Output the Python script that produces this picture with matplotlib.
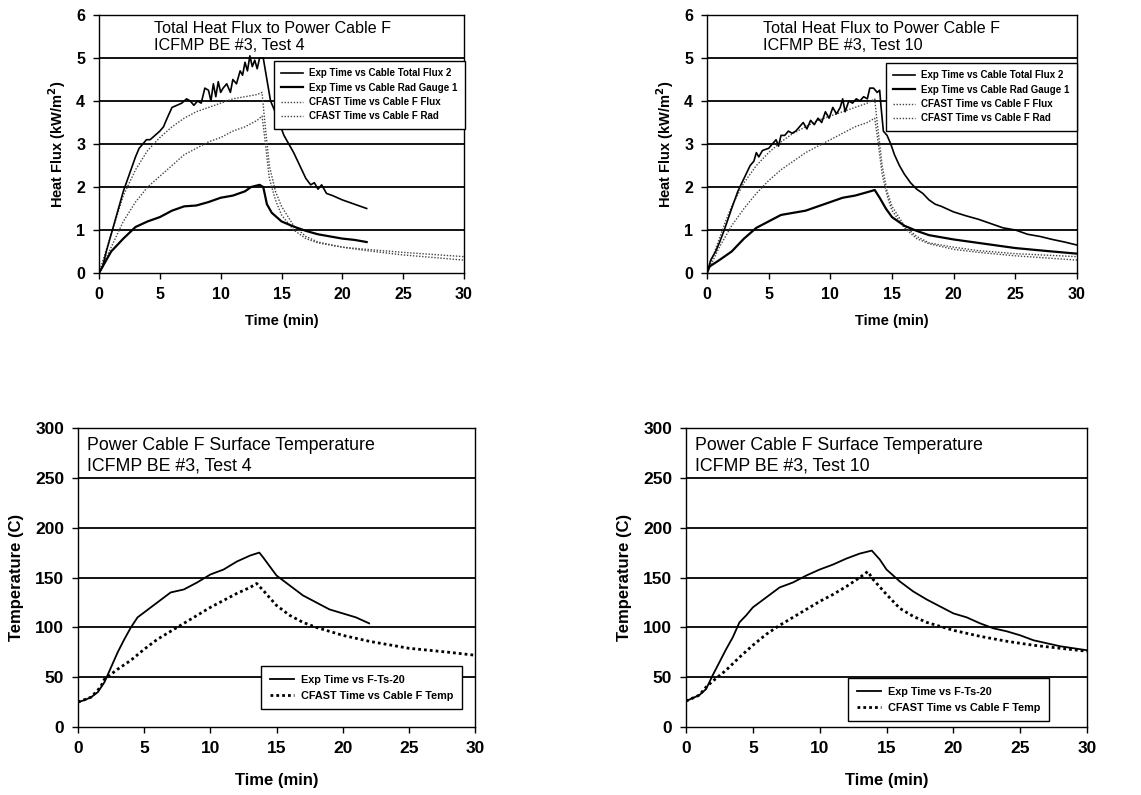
import matplotlib
matplotlib.use("Agg")
import matplotlib.pyplot as plt

plt.rcParams['font.family'] = ['Liberation Sans', 'DejaVu Sans']

W, H = 1141, 795

# ---------------- Data: Test 4 heat flux ----------------
t4_total = [0, 0.3, 0.6, 1.0, 1.5, 2.0, 2.5, 3.0, 3.3, 3.6, 3.9, 4.2, 4.6, 5.0, 5.3, 5.6, 6.0, 6.4, 6.8,
            7.2, 7.5, 7.8, 8.1, 8.4, 8.7, 9.0, 9.2, 9.4, 9.6, 9.8, 10.0, 10.2, 10.5, 10.8, 11.0, 11.3,
            11.6, 11.8, 12.0, 12.2, 12.4, 12.6, 12.8, 13.0, 13.2, 13.5, 13.8, 14.1, 14.4, 14.8, 15.2,
            15.6, 16.0, 16.5, 17.0, 17.4, 17.7, 18.0, 18.3, 18.7, 19.2, 20, 21, 22]
f4_total = [0, 0.15, 0.5, 0.9, 1.4, 1.9, 2.3, 2.7, 2.9, 3.0, 3.1, 3.1, 3.2, 3.3, 3.4, 3.6, 3.85, 3.9, 3.95,
            4.05, 4.0, 3.9, 4.0, 3.95, 4.3, 4.25, 4.0, 4.4, 4.1, 4.45, 4.2, 4.3, 4.4, 4.2, 4.5, 4.4,
            4.7, 4.6, 4.9, 4.7, 5.05, 4.8, 4.95, 4.75, 5.0, 5.0, 4.5, 4.0, 3.8, 3.5, 3.2,
            3.0, 2.8, 2.5, 2.2, 2.05, 2.1, 1.95, 2.05, 1.85, 1.8, 1.7, 1.6, 1.5]
t4_rad = [0, 0.5, 1, 2, 3, 4, 5, 6, 7, 8, 9, 10, 11, 12, 12.5, 13.2, 13.5, 13.8, 14.2, 15, 16, 17, 18, 19,
          20, 21, 22]
f4_rad = [0, 0.25, 0.5, 0.8, 1.07, 1.2, 1.3, 1.45, 1.55, 1.57, 1.65, 1.75, 1.8, 1.9, 2.0, 2.05, 2.0, 1.6,
          1.4, 1.2, 1.08, 0.98, 0.9, 0.85, 0.8, 0.77, 0.72]
t4_cf = [0, 1, 2, 3, 4, 5, 6, 7, 8, 9, 10, 11, 12, 13, 13.4, 13.6, 14, 14.5, 15, 16, 17, 18, 20, 22, 25, 30]
f4_cf_flux = [0, 0.9, 1.8, 2.4, 2.85, 3.15, 3.4, 3.6, 3.75, 3.85, 3.95, 4.05, 4.1, 4.15, 4.2, 3.6, 2.5,
              1.9, 1.55, 1.1, 0.85, 0.72, 0.6, 0.55, 0.48, 0.38]
f4_cf_rad = [0, 0.6, 1.2, 1.65, 2.0, 2.25, 2.5, 2.75, 2.9, 3.05, 3.15, 3.3, 3.4, 3.55, 3.65, 3.2, 2.2,
             1.7, 1.35, 1.0, 0.8, 0.7, 0.6, 0.52, 0.42, 0.3]

# ---------------- Data: Test 10 heat flux ----------------
t10_total = [0, 0.3, 0.7, 1.0, 1.4, 2.0, 2.5, 3.0, 3.5, 3.8, 4.0, 4.2, 4.5, 5.0, 5.3, 5.6, 5.8, 6.0, 6.3,
             6.6, 6.9, 7.2, 7.5, 7.8, 8.1, 8.4, 8.7, 9.0, 9.3, 9.6, 9.9, 10.2, 10.5, 10.8, 11.0, 11.2,
             11.5, 11.8, 12.1, 12.4, 12.7, 13.0, 13.2, 13.5, 13.8, 14.0, 14.1, 14.3, 14.6, 14.9, 15.2,
             15.6, 16.0, 16.5, 17.0, 17.5, 18.0, 18.5, 19.0, 20, 21, 22, 23, 24, 25, 26, 27, 28, 29, 30]
f10_total = [0, 0.3, 0.5, 0.7, 1.0, 1.5, 1.9, 2.2, 2.5, 2.6, 2.8, 2.7, 2.85, 2.9, 3.0, 3.1, 2.95, 3.2, 3.2,
             3.3, 3.25, 3.3, 3.4, 3.5, 3.35, 3.55, 3.45, 3.6, 3.5, 3.75, 3.6, 3.85, 3.7, 3.85, 4.05, 3.75,
             4.0, 3.95, 4.05, 4.0, 4.1, 4.05, 4.3, 4.3, 4.2, 4.25, 3.9, 3.3, 3.2, 3.0, 2.75,
             2.5, 2.3, 2.1, 1.95, 1.85, 1.7, 1.6, 1.55, 1.42, 1.33, 1.25, 1.15, 1.05, 1.0, 0.9, 0.85, 0.78,
             0.72, 0.65]
t10_rad = [0, 0.2, 1, 2, 3, 4, 5, 6, 7, 8, 9, 10, 11, 12, 13, 13.6, 14, 14.5, 15, 16, 17, 18, 20, 22, 25,
           28, 30]
f10_rad = [0, 0.15, 0.3, 0.5, 0.8, 1.05, 1.2, 1.35, 1.4, 1.45, 1.55, 1.65, 1.75, 1.8, 1.88, 1.93, 1.75,
           1.5, 1.3, 1.1, 0.98, 0.88, 0.78, 0.7, 0.58, 0.5, 0.45]
t10_cf = [0, 0.5, 1, 1.5, 2, 3, 4, 5, 6, 7, 8, 9, 10, 11, 12, 13, 13.6, 13.8, 14.2, 14.6, 15, 16, 17, 18,
          20, 22, 25, 30]
f10_cf_flux = [0, 0.4, 0.8, 1.2, 1.55, 2.1, 2.5, 2.8, 3.05, 3.25, 3.4, 3.55, 3.65, 3.75, 3.85, 3.95, 4.05,
               3.5, 2.5, 1.9, 1.55, 1.1, 0.85, 0.7, 0.6, 0.52, 0.45, 0.38]
f10_cf_rad = [0, 0.3, 0.6, 0.85, 1.1, 1.5, 1.85, 2.15, 2.4, 2.6, 2.8, 2.95, 3.1, 3.25, 3.4, 3.5, 3.6,
              3.2, 2.3, 1.8, 1.45, 1.05, 0.8, 0.68, 0.55, 0.48, 0.4, 0.3]

# ---------------- Data: surface temperatures ----------------
t4_temp = [0, 0.5, 1, 1.5, 2, 2.5, 3, 3.5, 4, 4.5, 5, 6, 7, 8, 9, 10, 11, 12, 13, 13.7, 14, 15, 16, 17, 18,
           19, 20, 21, 22]
T4_exp = [25, 27, 30, 35, 45, 60, 75, 88, 100, 110, 115, 125, 135, 138, 145, 153, 158, 166, 172, 175, 170,
          152, 142, 132, 125, 118, 114, 110, 104]
t4_cft = [0, 1, 1.7, 2, 3, 4, 5, 6, 7, 8, 9, 10, 11, 12, 13, 13.5, 14, 15, 16, 17, 18, 19, 20, 22, 25, 28, 30]
T4_cf = [25, 30, 40, 48, 58, 67, 78, 88, 96, 104, 112, 120, 127, 134, 140, 144, 137, 122, 112, 105, 100,
         96, 92, 86, 79, 75, 72]

t10_temp = [0, 1, 1.5, 2, 2.5, 3, 3.5, 4, 4.5, 5, 6, 7, 8, 9, 10, 11, 12, 13, 13.9, 14.5, 15, 16, 17, 18,
            19, 20, 21, 22, 23, 24, 25, 26, 27, 28, 29, 30]
T10_exp = [26, 32, 38, 52, 65, 78, 90, 105, 112, 120, 130, 140, 145, 152, 158, 163, 169, 174, 177, 168,
           158, 146, 136, 128, 121, 114, 110, 104, 99, 96, 92, 87, 84, 81, 79, 77]
t10_cft = [0, 1, 1.5, 2, 3, 4, 5, 6, 7, 8, 9, 10, 11, 12, 13, 13.6, 14, 15, 15.5, 16, 17, 18, 19, 20, 22,
           24, 26, 28, 30]
T10_cf = [26, 32, 40, 46, 57, 70, 82, 93, 102, 110, 118, 126, 133, 141, 150, 156, 148, 133, 126, 119, 111,
          105, 101, 97, 91, 86, 82, 79, 76]

flux_labels = ["Exp Time vs Cable Total Flux 2", "Exp Time vs Cable Rad Gauge 1",
               "CFAST Time vs Cable F Flux", "CFAST Time vs Cable F Rad"]
temp_labels = ["Exp Time vs F-Ts-20", "CFAST Time vs Cable F Temp"]
flux_titles = ["Total Heat Flux to Power Cable F\nICFMP BE #3, Test 4",
               "Total Heat Flux to Power Cable F\nICFMP BE #3, Test 10"]
temp_titles = ["Power Cable F Surface Temperature\nICFMP BE #3, Test 4",
               "Power Cable F Surface Temperature\nICFMP BE #3, Test 10"]
xticks = [0, 5, 10, 15, 20, 25, 30]
flux_ticks = [0, 1, 2, 3, 4, 5, 6]
temp_ticks = [0, 50, 100, 150, 200, 250, 300]

fig = plt.figure(figsize=(W / 100, H / 100), dpi=100)


def px_axes(l, t, r, b):
    return fig.add_axes([l / W, 1 - b / H, (r - l) / W, (b - t) / H])


def style(ax, yticks, tick_fs):
    ax.set_xlim(0, 30)
    ax.set_ylim(yticks[0], yticks[-1])
    ax.set_xticks(xticks)
    ax.set_yticks(yticks)
    for yv in yticks[1:-1]:
        ax.axhline(yv, color='black', lw=1.3, zorder=1)
    for sp in ax.spines.values():
        sp.set_color('black')
        sp.set_linewidth(1.0)
    ax.tick_params(direction='out', length=4, width=1, labelsize=tick_fs, pad=6)
    for lab in ax.get_xticklabels() + ax.get_yticklabels():
        lab.set_fontweight('bold')


def legend_at(handles, labels, x, y, fs, spacing, pad):
    leg = fig.legend(handles, labels, loc='upper left', bbox_to_anchor=(x / W, 1 - y / H),
                     bbox_transform=fig.transFigure, borderaxespad=0, fontsize=fs,
                     frameon=True, fancybox=False, edgecolor='black', framealpha=1,
                     handlelength=2.2, handletextpad=0.7, labelspacing=spacing, borderpad=pad)
    leg.get_frame().set_linewidth(1.0)
    for txt in leg.get_texts():
        txt.set_fontweight('bold')
    return leg


flux_axes_px = [(99, 15, 464, 273), (707, 15, 1077, 273)]
flux_data = [
    (t4_total, f4_total, t4_rad, f4_rad, t4_cf, f4_cf_flux, f4_cf_rad),
    (t10_total, f10_total, t10_rad, f10_rad, t10_cf, f10_cf_flux, f10_cf_rad),
]
flux_leg_pos = [(274, 61), (886, 63)]
for i in range(2):
    ax = px_axes(*flux_axes_px[i])
    tt, ft, tr, fr, tc, fcf, fcr = flux_data[i]
    style(ax, flux_ticks, 11.5)
    h1, = ax.plot(tt, ft, color='black', lw=1.2, zorder=3)
    h2, = ax.plot(tr, fr, color='black', lw=1.6, zorder=3)
    h3, = ax.plot(tc, fcf, color='#444444', lw=1.0, ls=(0, (1, 1.2)), zorder=2)
    h4, = ax.plot(tc, fcr, color='#444444', lw=1.0, ls=(0, (1, 1.2)), zorder=2)
    ax.set_xlabel("Time (min)", fontsize=10.5, fontweight='bold', labelpad=9)
    ax.set_ylabel("Heat Flux (kW/m$^\\mathbf{2}$)", fontsize=10.5, fontweight='bold', labelpad=6)
    ax.text(0.152, 0.975, flux_titles[i], transform=ax.transAxes, fontsize=11.6, va='top', ha='left',
            linespacing=1.12)
    legend_at([h1, h2, h3, h4], flux_labels, *flux_leg_pos[i], 7.0, 0.45, 0.75)

temp_axes_px = [(78, 428, 475, 727), (686, 428, 1087, 727)]
temp_data = [(t4_temp, T4_exp, t4_cft, T4_cf), (t10_temp, T10_exp, t10_cft, T10_cf)]
temp_leg_pos = [(261, 666), (848, 678)]
for i in range(2):
    ax = px_axes(*temp_axes_px[i])
    te, Te, tc, Tc = temp_data[i]
    style(ax, temp_ticks, 12.5)
    h1, = ax.plot(te, Te, color='black', lw=1.3, zorder=3)
    h2, = ax.plot(tc, Tc, color='black', lw=2.0, ls=(0, (1, 1.1)), zorder=3)
    ax.set_xlabel("Time (min)", fontsize=12, fontweight='bold', labelpad=12)
    ax.set_ylabel("Temperature (C)", fontsize=12, fontweight='bold', labelpad=8)
    ax.text(0.022, 0.97, temp_titles[i], transform=ax.transAxes, fontsize=12.8, va='top', ha='left',
            linespacing=1.25)
    legend_at([h1, h2], temp_labels, *temp_leg_pos[i], 7.8, 0.55, 0.8)

fig.savefig("out.png", dpi=100)
